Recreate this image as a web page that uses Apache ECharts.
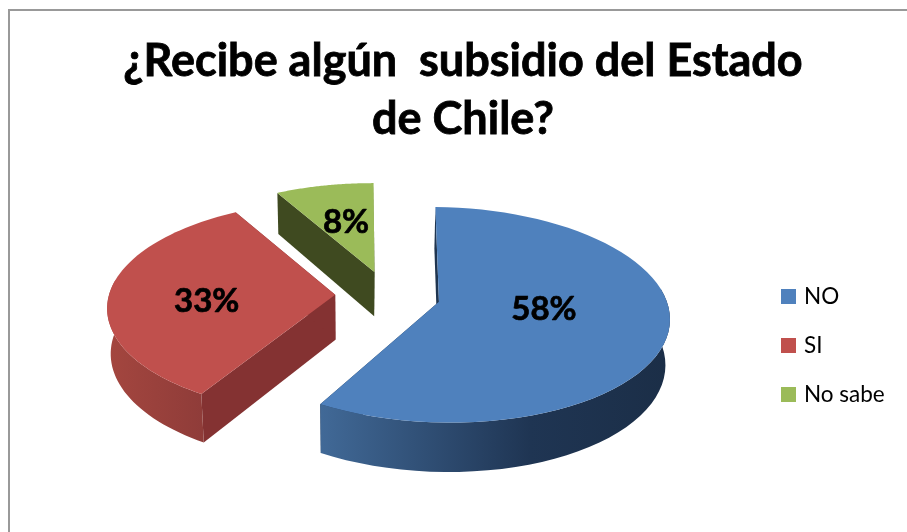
<!DOCTYPE html>
<html>
<head>
<meta charset="utf-8">
<style>html,body{margin:0;padding:0;background:#fff}#main{width:907px;height:532px}</style>
<script src="https://cdn.jsdelivr.net/npm/echarts@6/dist/echarts.min.js"></script>
</head>
<body>
<div id="main"></div>
<script>
// Survey answers
const categories = ['NO', 'SI', 'No sabe'];
const percentages = [58, 33, 8];
const titleLines = ['¿Recibe algún  subsidio del Estado', 'de Chile?'];

// Slice colours: top face, cut face, outer wall gradient stops
const topColors = ['#4f81bd', '#c0504d', '#9bbb59'];
const cutColors = ['#1f3550', '#843232', '#3f4a20'];
const wallStops = [
  [[0, '#416997'], [0.6, '#1f3553'], [1, '#1b2e47']],
  [[0, '#a4463f'], [1, '#8f3c39']],
  [[0, '#4a5a28'], [1, '#3f4a20']]
];
// Percentage label placement: reach from the slice tip as a share of the radius, then a nudge in pixels
const labelReach = [0.47, 0.56, 0.5];
const labelNudge = [[-1, -6], [-2, 8], [-2, -4]];

// Projection of the tilted, exploded pie
const view = {
  originX: 356, originY: 302,   // screen position of the ground plane origin
  centerX: 32, centerY: -15,    // pie centre on the ground plane
  radius: 228, depth: 52, explode: 53,
  tilt: 27.8 * Math.PI / 180, camera: 1680,
  startAngle: 1.5               // degrees, clockwise from the back of the pie
};

function project(x, y, z) {
  const s = view.camera / (view.camera - (y * Math.cos(view.tilt) + z * Math.sin(view.tilt)));
  return [
    view.originX + x * s,
    view.originY + (y * Math.sin(view.tilt) - z * Math.cos(view.tilt)) * s
  ];
}

// The percentages add up to 99, so the missing part is shared out as thin angular gaps
const total = percentages.reduce((a, b) => a + b, 0);
const gapShare = (100 - total) / percentages.length;

function slicePoint(tip, angle, reach, z) {
  return project(tip[0] + Math.sin(angle) * reach, tip[1] - Math.cos(angle) * reach, z);
}

function renderSlice(index, api) {
  const value = api.value(0);
  const before = percentages.slice(0, index).reduce((a, b) => a + b + gapShare, 0);
  const start = view.startAngle * Math.PI / 180;
  const a0 = start + before / 100 * Math.PI * 2;
  const a1 = a0 + value / 100 * Math.PI * 2;
  const mid = (a0 + a1) / 2;
  const tip = [
    view.centerX + Math.sin(mid) * view.explode,
    view.centerY - Math.cos(mid) * view.explode
  ];
  const steps = 64;
  const rimTop = [], wallTop = [], wallBottom = [];
  for (let i = 0; i <= steps; i++) {
    const a = a0 + (a1 - a0) * i / steps;
    const p = slicePoint(tip, a, view.radius, 0);
    rimTop.push(p);
    // Only the part of the outer wall turned towards the viewer is drawn
    if (Math.cos(a) < 0.15) {
      wallTop.push(p);
      wallBottom.push(slicePoint(tip, a, view.radius, -view.depth));
    }
  }
  const tipTop = project(tip[0], tip[1], 0);
  const tipBottom = project(tip[0], tip[1], -view.depth);
  const rimBottomStart = slicePoint(tip, a0, view.radius, -view.depth);
  const rimBottomEnd = slicePoint(tip, a1, view.radius, -view.depth);
  const poly = (points, fill) => ({ type: 'polygon', shape: { points }, style: { fill }, silent: true });
  const wallFill = new echarts.graphic.LinearGradient(0, 0, 1, 0,
    wallStops[index].map(s => ({ offset: s[0], color: s[1] })));
  const labelAt = slicePoint(tip, mid, view.radius * labelReach[index], 0);
  const children = [
    poly([tipTop, rimTop[0], rimBottomStart, tipBottom], cutColors[index]),
    poly([tipTop, rimTop[steps], rimBottomEnd, tipBottom], cutColors[index])
  ];
  if (wallTop.length > 1) {
    children.push(poly(wallTop.concat(wallBottom.slice().reverse()), wallFill));
  }
  children.push(poly([tipTop].concat(rimTop), topColors[index]));
  children.push({
    type: 'text', silent: true,
    style: {
      x: labelAt[0] + labelNudge[index][0], y: labelAt[1] + labelNudge[index][1],
      text: value + '%',
      fill: '#000', stroke: '#000', lineWidth: 0.7,
      align: 'center', verticalAlign: 'middle',
      font: 'bold 33px Lato, sans-serif'
    }
  });
  return { type: 'group', children };
}

const chart = echarts.init(document.getElementById('main'), null, { renderer: 'canvas' });
chart.setOption({
  animation: false,
  backgroundColor: '#fff',
  title: {
    text: titleLines.join('\n'),
    left: 458, top: 27, textAlign: 'center',
    textStyle: {
      fontFamily: 'Lato', fontWeight: 'bold', fontSize: 45, lineHeight: 58, color: '#000',
      textBorderColor: '#000', textBorderWidth: 0.8
    }
  },
  legend: {
    orient: 'vertical', left: 776, top: 280,
    itemWidth: 15, itemHeight: 15, itemGap: 26,
    icon: 'rect',
    data: categories,
    textStyle: { fontFamily: 'Lato', fontSize: 22.5, color: '#000', padding: [0, 0, 0, 3] }
  },
  graphic: [{
    type: 'polyline', silent: true,
    shape: { points: [[9, 532], [9, 10], [907, 10]] },
    style: { fill: null, stroke: '#999', lineWidth: 2 }
  }],
  series: categories.map((name, i) => ({
    type: 'custom',
    name,
    coordinateSystem: 'none',
    z: 3 - i,
    itemStyle: { color: topColors[i] },
    data: [[percentages[i]]],
    encode: { value: 0 },
    renderItem: (params, api) => renderSlice(i, api)
  }))
});
</script>
</body>
</html>
